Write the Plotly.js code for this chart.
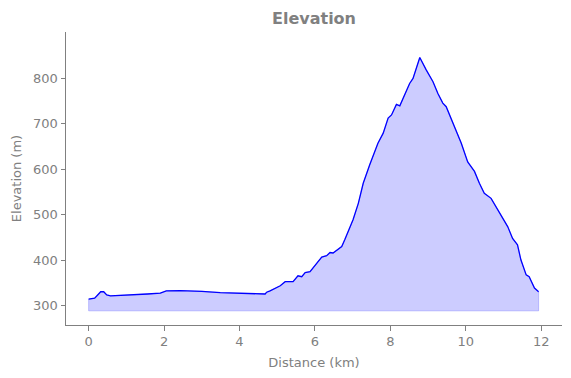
<!DOCTYPE html>
<html>
<head>
<meta charset="utf-8">
<script src="https://cdn.plot.ly/plotly-3.0.1.min.js"></script>
<style>html,body{margin:0;padding:0;background:#fff;}#chart{width:571px;height:378px;}</style>
</head>
<body>
<div id="chart"></div>
<script>
var distanceKm = [0, 0.16, 0.24, 0.32, 0.40, 0.48, 0.58, 0.9, 1.2, 1.56, 1.9, 2.0, 2.06, 2.43, 3.0, 3.49, 4.0, 4.28, 4.68, 4.72, 4.81, 5.08, 5.21, 5.42, 5.55, 5.65, 5.74, 5.87, 6.0, 6.18, 6.31, 6.40, 6.48, 6.71, 6.79, 6.88, 7.01, 7.15, 7.28, 7.45, 7.67, 7.81, 7.94, 8.03, 8.16, 8.25, 8.33, 8.51, 8.60, 8.78, 8.95, 9.02, 9.13, 9.26, 9.39, 9.48, 9.66, 9.88, 10.05, 10.23, 10.36, 10.49, 10.67, 10.94, 11.11, 11.24, 11.37, 11.46, 11.60, 11.68, 11.82, 11.93];
var elevationM = [315, 317, 324, 331, 331, 324, 322, 323, 324, 326, 328, 332, 333, 333.5, 332, 329, 328, 326, 326, 330, 333, 344, 353, 353, 366, 364, 373, 375, 388, 407, 410, 417, 416, 430, 445, 463, 489, 525, 569, 609, 657, 679, 712, 719, 742, 739, 755, 788, 799, 845, 818, 807, 792, 766, 745, 737, 701, 657, 616, 595, 569, 547, 536, 496, 474, 448, 434, 401, 368, 364, 339, 331];
var fillBase = 289;
var xTicks = [0, 2, 4, 6, 8, 10, 12];
var yTicks = [300, 400, 500, 600, 700, 800];

var polyX = [distanceKm[0]].concat(distanceKm, [distanceKm[distanceKm.length - 1], distanceKm[0]]);
var polyY = [fillBase].concat(elevationM, [fillBase, fillBase]);

var gray = '#808080';
var traces = [
  {x: polyX, y: polyY, mode: 'lines', fill: 'toself', fillcolor: 'rgba(0,0,255,0.2)',
   line: {color: 'rgba(0,0,255,0.2)', width: 1}, hoverinfo: 'skip', showlegend: false},
  {x: distanceKm, y: elevationM, mode: 'lines', line: {color: '#0000ff', width: 1.3}, showlegend: false}
];
var layout = {
  width: 571, height: 378,
  margin: {l: 66, r: 9, t: 32, b: 53},
  paper_bgcolor: '#fff', plot_bgcolor: '#fff',
  font: {family: 'DejaVu Sans', size: 13, color: gray},
  title: {text: '<b>Elevation</b>', font: {family: 'DejaVu Sans', size: 16, color: gray},
          x: 0.5, xanchor: 'center', xref: 'paper', y: 1 - 18 / 378, yanchor: 'middle', yref: 'container'},
  xaxis: {range: [-0.6, 12.55], tickvals: xTicks, ticktext: xTicks.map(String),
          showgrid: false, zeroline: false, showline: true, linecolor: gray, linewidth: 1,
          ticks: 'outside', ticklen: 4.5, tickcolor: gray, tickwidth: 1,
          tickfont: {size: 13, color: gray},
          title: {text: 'Distance (km)', font: {size: 13, color: gray}, standoff: 9}},
  yaxis: {range: [258, 901], tickvals: yTicks, ticktext: yTicks.map(String),
          showgrid: false, zeroline: false, showline: true, linecolor: gray, linewidth: 1,
          ticks: 'outside', ticklen: 4.5, tickcolor: gray, tickwidth: 1,
          tickfont: {size: 13, color: gray},
          title: {text: 'Elevation (m)', font: {size: 13, color: gray}, standoff: 8}}
};
Plotly.newPlot('chart', traces, layout, {displayModeBar: false, staticPlot: true});
</script>
</body>
</html>
